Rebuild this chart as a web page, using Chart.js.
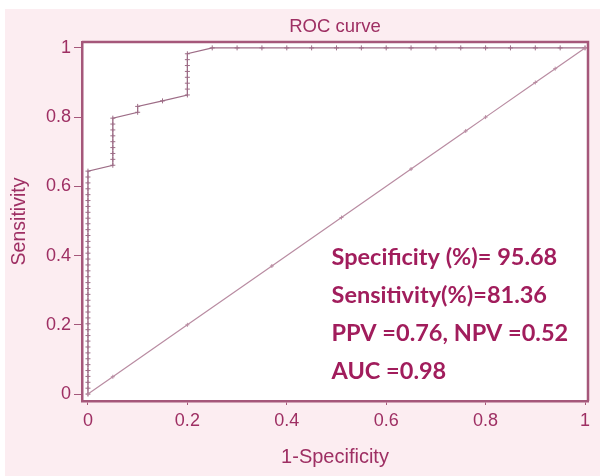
<!DOCTYPE html>
<html>
<head>
<meta charset="utf-8">
<script src="https://cdn.jsdelivr.net/npm/chart.js@4.4.0/dist/chart.umd.min.js"></script>
<style>
  html, body { margin: 0; padding: 0; background: #fff; }
</style>
</head>
<body>
<canvas id="rocChart" width="605" height="476"></canvas>
<script>
// ROC curve: 1-specificity / sensitivity
const rocFpr = [
  0, 0, 0, 0, 0, 0, 0, 0, 0, 0,
  0, 0, 0, 0, 0, 0, 0, 0, 0, 0,
  0, 0, 0, 0, 0, 0, 0, 0, 0, 0,
  0, 0, 0, 0, 0, 0, 0, 0, 0,
  0.05, 0.05, 0.05, 0.05, 0.05, 0.05, 0.05, 0.05, 0.05,
  0.1, 0.1,
  0.15,
  0.2, 0.2, 0.2, 0.2, 0.2, 0.2, 0.2, 0.2,
  0.25, 0.3, 0.35, 0.4, 0.45, 0.5, 0.55, 0.6, 0.65, 0.7, 0.75, 0.8, 0.85, 0.9, 0.95, 1
];
const rocTpr = [
  0, 0.017, 0.034, 0.051, 0.068, 0.085, 0.102, 0.119, 0.136, 0.153,
  0.169, 0.186, 0.203, 0.22, 0.237, 0.254, 0.271, 0.288, 0.305, 0.322,
  0.339, 0.356, 0.373, 0.39, 0.407, 0.424, 0.441, 0.458, 0.475, 0.492,
  0.508, 0.525, 0.542, 0.559, 0.576, 0.593, 0.61, 0.627, 0.644,
  0.661, 0.678, 0.695, 0.712, 0.729, 0.746, 0.763, 0.78, 0.797,
  0.814, 0.831,
  0.847,
  0.864, 0.881, 0.898, 0.915, 0.932, 0.949, 0.966, 0.983,
  1, 1, 1, 1, 1, 1, 1, 1, 1, 1, 1, 1, 1, 1, 1, 1
];
// chance line
const refFpr = [0, 0.05, 0.2, 0.37, 0.51, 0.65, 0.76, 0.8, 0.9, 0.94, 1];
const refTpr = [0, 0.05, 0.2, 0.37, 0.51, 0.65, 0.76, 0.8, 0.9, 0.94, 1];

const xTicks = [0, 0.2, 0.4, 0.6, 0.8, 1];
const yTicks = [0, 0.2, 0.4, 0.6, 0.8, 1];

const statLines = [
  "Specificity (%)= 95.68",
  "Sensitivity(%)=81.36",
  "PPV =0.76, NPV =0.52",
  "AUC =0.98"
];

const frameColor = "#a5577a";
const textColor = "#9e2f63";

// background, frame and stats text
const decor = {
  id: "decor",
  beforeDraw(chart) {
    const { ctx, chartArea: a } = chart;
    ctx.save();
    ctx.fillStyle = "#ffffff";
    ctx.fillRect(0, 0, chart.width, chart.height);
    ctx.fillStyle = "#fcedf1";
    ctx.fillRect(5, 9, 595, 467);
    ctx.fillStyle = "#ffffff";
    ctx.fillRect(a.left, a.top, a.right - a.left, a.bottom - a.top);
    ctx.restore();
  },
  afterDraw(chart) {
    const { ctx, chartArea: a, scales } = chart;
    ctx.save();
    ctx.strokeStyle = frameColor;
    ctx.lineWidth = 2.5;
    ctx.beginPath();
    ctx.moveTo(a.left, a.top);
    ctx.lineTo(a.right, a.top);
    ctx.lineTo(a.right, a.bottom);
    ctx.stroke();

    const rowsAt = [0.396, 0.286, 0.176, 0.064];
    ctx.fillStyle = "#a11d5c";
    ctx.font = "bold 23.5px Lato";
    ctx.textBaseline = "middle";
    ctx.textAlign = "left";
    const x = scales.x.getPixelForValue(0.49);
    statLines.forEach((t, i) => {
      ctx.fillText(t, x, scales.y.getPixelForValue(rowsAt[i]));
    });
    ctx.restore();
  }
};

new Chart(document.getElementById("rocChart"), {
  type: "scatter",
  data: {
    datasets: [
      {
        label: "Reference",
        data: refFpr.map((v, i) => ({ x: v, y: refTpr[i] })),
        showLine: true,
        borderColor: "#b98ca2",
        borderWidth: 1.2,
        pointStyle: "cross",
        pointRadius: 2,
        pointBorderColor: "#b98ca2",
        pointBorderWidth: 1
      },
      {
        label: "ROC",
        data: rocFpr.map((v, i) => ({ x: v, y: rocTpr[i] })),
        showLine: true,
        borderColor: "#9d6c86",
        borderWidth: 1.2,
        pointStyle: "cross",
        pointRadius: 2.5,
        pointBorderColor: "#9d6c86",
        pointBorderWidth: 1
      }
    ]
  },
  options: {
    responsive: false,
    animation: false,
    devicePixelRatio: 1,
    layout: { padding: { left: 0, right: 17, top: 0, bottom: 7 } },
    plugins: {
      legend: { display: false },
      tooltip: { enabled: false },
      title: {
        display: true,
        text: "ROC curve",
        fullSize: false,
        color: textColor,
        font: { family: "Liberation Sans", size: 18.5, weight: "normal" },
        padding: { top: 16, bottom: 3.8 }
      }
    },
    scales: {
      x: {
        type: "linear",
        min: -0.012,
        max: 1.006,
        afterBuildTicks: (s) => { s.ticks = xTicks.map((v) => ({ value: v })); },
        afterFit: (s) => { s.height = 68; },
        grid: { drawOnChartArea: false, drawTicks: true, tickLength: 4, color: frameColor },
        border: { display: true, color: frameColor, width: 2.5 },
        ticks: {
          color: textColor,
          padding: 5,
          font: { family: "Liberation Sans", size: 18 },
          callback: (v) => String(v)
        },
        title: {
          display: true,
          text: "1-Specificity",
          color: textColor,
          font: { family: "Liberation Sans", size: 20 },
          padding: { top: 0, bottom: 0 }
        }
      },
      y: {
        type: "linear",
        min: -0.02,
        max: 1.017,
        afterBuildTicks: (s) => { s.ticks = yTicks.map((v) => ({ value: v })); },
        afterFit: (s) => { s.width = 82; },
        grid: { drawOnChartArea: false, drawTicks: true, tickLength: 8, color: frameColor },
        border: { display: true, color: frameColor, width: 2.5 },
        ticks: {
          color: textColor,
          padding: 3,
          font: { family: "Liberation Sans", size: 18 },
          callback: (v) => String(v)
        },
        title: {
          display: true,
          text: "Sensitivity",
          color: textColor,
          font: { family: "Liberation Sans", size: 19.5 },
          padding: { top: 8, bottom: 0 }
        }
      }
    }
  },
  plugins: [decor]
});
</script>
</body>
</html>
